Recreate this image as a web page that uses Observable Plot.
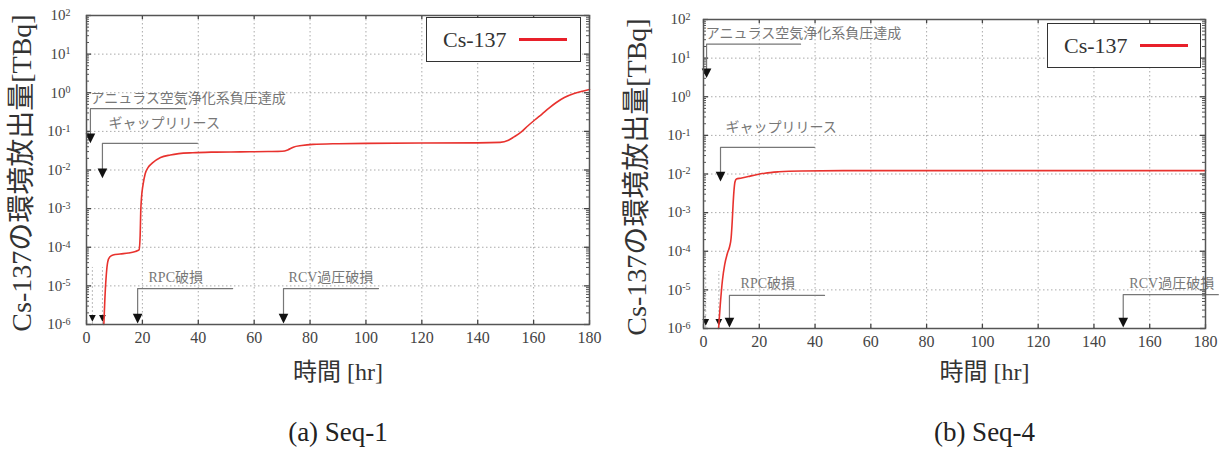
<!DOCTYPE html>
<html><head><meta charset="utf-8">
<script src="https://cdn.jsdelivr.net/npm/d3@7"></script>
<script src="https://cdn.jsdelivr.net/npm/@observablehq/plot@0.6"></script>
<style>
body{margin:0;background:#fff;}
#wrap{position:relative;width:1224px;height:450px;overflow:hidden;background:#fff;font-family:"Liberation Serif","Noto Sans CJK JP",serif;}
.panel{position:absolute;top:0;width:612px;height:450px;}
.legend{position:absolute;border:1.5px solid #333;box-sizing:border-box;background:#fff;}
.legend span{position:absolute;font-size:22px;color:#333;line-height:1;}
.legend i{position:absolute;height:3px;background:#e8202a;}
</style></head><body><div id="wrap"></div><script>
// ---- data ----
const xTicks = [0, 20, 40, 60, 80, 100, 120, 140, 160, 180];
const yTicks = [1e-6, 1e-5, 1e-4, 1e-3, 1e-2, 1e-1, 1e0, 1e1, 1e2];
const seriesName = "Cs-137";
const seq1Time  = [6.2, 6.6, 7.1, 7.6, 8.3, 9.5, 12, 15, 17.5, 18.8, 19.2, 19.4, 19.7, 20.2, 21, 22, 23.5, 26.5, 30, 33, 38, 45, 55, 65, 70, 72, 74, 77, 81, 90, 100, 120, 140, 148, 151, 153, 155.5, 158, 160.5, 163, 165.5, 168, 171, 174.5, 177.5, 180];
const seq1Value = [1e-6, 5e-6, 2e-5, 4.2e-5, 5.6e-5, 6.3e-5, 6.7e-5, 7.1e-5, 7.8e-5, 8.5e-5, 2e-4, 8e-4, 2e-3, 4e-3, 8e-3, 1.15e-2, 1.5e-2, 2.1e-2, 2.45e-2, 2.65e-2, 2.8e-2, 2.9e-2, 2.95e-2, 3e-2, 3.05e-2, 3.3e-2, 3.9e-2, 4.3e-2, 4.6e-2, 4.8e-2, 4.9e-2, 5e-2, 5.05e-2, 5.2e-2, 5.9e-2, 7.2e-2, 9.5e-2, 0.14, 0.2, 0.28, 0.4, 0.55, 0.75, 0.95, 1.1, 1.22];
const seq4Time  = [5.4, 6, 6.8, 7.6, 8.6, 9.4, 9.9, 10.3, 10.6, 10.9, 11.3, 11.8, 13.3, 16, 19, 22, 27, 35, 50, 80, 120, 180];
const seq4Value = [1e-6, 4e-6, 1.8e-5, 4.5e-5, 9e-5, 1.35e-4, 2.2e-4, 6e-4, 1.6e-3, 3.5e-3, 6.3e-3, 7.4e-3, 7.8e-3, 8.6e-3, 9.6e-3, 1.05e-2, 1.14e-2, 1.2e-2, 1.22e-2, 1.22e-2, 1.22e-2, 1.22e-2];
const seq1Events = [
  {label: "アニュラス空気浄化系負圧達成", time: 1.4, arrow: 0.07, level: 0.39, end: 35.4, textTime: 1.4, textLevel: 0.72},
  {label: "ギャップリリース", time: 5.7, arrow: 0.0087, level: 0.049, end: 39.7, textTime: 7.9, textLevel: 0.16},
  {label: "RPC破損", time: 18.3, arrow: 1.5e-6, level: 8.5e-6, end: 52.3, textTime: 22.2, textLevel: 1.6e-5},
  {label: "RCV過圧破損", time: 70.5, arrow: 1.5e-6, level: 8.5e-6, end: 104.5, textTime: 72.3, textLevel: 1.6e-5}
];
const seq4Events = [
  {label: "アニュラス空気浄化系負圧達成", time: 1.1, arrow: 4.3, level: 23, end: 34.8, textTime: 0.8, textLevel: 44},
  {label: "ギャップリリース", time: 6.1, arrow: 0.0091, level: 0.049, end: 39.8, textTime: 7.9, textLevel: 0.16},
  {label: "RPC破損", time: 9.3, arrow: 1.5e-6, level: 7.2e-6, end: 43.4, textTime: 13.3, textLevel: 1.5e-5},
  {label: "RCV過圧破損", time: 150.5, arrow: 1.5e-6, level: 7.5e-6, end: 184.6, textTime: 152.7, textLevel: 1.5e-5}
];
const seq1Marks = [2.1, 5.7];
const seq4Marks = [0.8, 5.5];
const yLabel = "Cs-137の環境放出量[TBq]";
const xLabel = "時間 [hr]";
const captions = ["(a) Seq-1", "(b) Seq-4"];

// ---- helpers ----
const minorTicks = [];
for (let e = -6; e < 2; e++) for (let k = 2; k <= 9; k++) minorTicks.push(k * Math.pow(10, e));
const triDown = {draw(ctx, size) {
  const r = Math.sqrt(size / 1.3);
  ctx.moveTo(0, r * 0.75); ctx.lineTo(-r * 0.62, -r * 0.5); ctx.lineTo(r * 0.62, -r * 0.5); ctx.closePath();
}};
const FONT = '"Liberation Serif","Noto Sans CJK JP",serif';

function makePanel(o) {
  const W = 612, H = 450;
  const iw = W - o.ml - o.mr, ih = H - o.mt - o.mb;
  const series = o.time.map((t, i) => ({t, v: o.value[i]}));
  const leaders = o.events.flatMap(e => [
    {name: e.label, x: e.time, y: e.arrow},
    {name: e.label, x: e.time, y: e.level},
    {name: e.label, x: e.end, y: e.level}
  ]);
  const grid = {stroke: "#aaa", strokeOpacity: 1, strokeWidth: 1, strokeDasharray: "1.5,2.5"};
  const chart = Plot.plot({
    width: W, height: H,
    marginLeft: o.ml, marginRight: o.mr, marginTop: o.mt, marginBottom: o.mb,
    style: {fontFamily: FONT, background: "transparent", overflow: "visible"},
    x: {domain: [0, 180], label: null},
    y: {type: "log", domain: [1e-6, 1e2], label: null},
    marks: [
      Plot.ruleX(xTicks.slice(1, -1), {x: d => d, ...grid}),
      Plot.ruleY(yTicks.slice(1, -1), {y: d => d, ...grid}),
      Plot.tickY(minorTicks, {y: d => d, insetRight: iw - 3, stroke: "#555"}),
      Plot.tickY(minorTicks, {y: d => d, insetLeft: iw - 3, stroke: "#555"}),
      Plot.tickY(yTicks, {y: d => d, insetRight: iw - 5, stroke: "#444", strokeWidth: 1.3}),
      Plot.tickY(yTicks, {y: d => d, insetLeft: iw - 5, stroke: "#444", strokeWidth: 1.3}),
      Plot.tickX(xTicks, {x: d => d, insetTop: ih - 4, stroke: "#444", strokeWidth: 1.3}),
      Plot.tickX(xTicks, {x: d => d, insetBottom: ih - 4, stroke: "#444", strokeWidth: 1.3}),
      Plot.axisX({ticks: xTicks, tickSize: 0, tickPadding: 7, fontSize: 16, color: "#444", tickFormat: d => String(d)}),
      Plot.axisY({ticks: yTicks, tickSize: 0, tickPadding: o.tp, fontSize: 15, color: "#444",
        tickFormat: d => "10^" + Math.round(Math.log10(d))}),
      Plot.ruleX(o.marks, {x: d => d, y1: 1e-6, y2: 3e-5, stroke: "#bbb", strokeDasharray: "2,2"}),
      Plot.line(leaders, {x: "x", y: "y", z: "name", stroke: "#777", strokeWidth: 1.2}),
      Plot.dot(o.events, {x: "time", y: "arrow", symbol: triDown, r: 5, fill: "#111", stroke: "none"}),
      Plot.dot(o.marks, {x: d => d, y: 1.5e-6, symbol: triDown, r: 3.5, fill: "#111", stroke: "none"}),
      Plot.text(o.events, {x: "textTime", y: "textLevel", text: "label", textAnchor: "start", fill: "#777", fontSize: 14}),
      Plot.line(series, {x: "t", y: "v", stroke: "#e8322e", strokeWidth: 1.6, curve: "monotone-x"}),
      Plot.frame({stroke: "#555", strokeWidth: 1.5}),
      Plot.text([yLabel], {frameAnchor: "left", rotate: -90, dx: o.ylx, dy: 3, textAnchor: "middle", lineAnchor: "middle", fontSize: 28, fill: "#333"}),
      Plot.text([xLabel], {frameAnchor: "bottom", dx: o.cx, dy: o.xly, textAnchor: "middle", lineAnchor: "middle", fontSize: 24, fill: "#333"}),
      Plot.text([o.caption], {frameAnchor: "bottom", dx: o.cx, dy: o.cy, textAnchor: "middle", lineAnchor: "middle", fontSize: 27, fill: "#222"})
    ]
  });
  // superscript exponents on y tick labels
  d3.select(chart).selectAll('g[aria-label="y-axis tick label"] text').each(function() {
    const t = this.textContent;
    if (!t.startsWith("10^")) return;
    const exp = t.slice(3);
    const el = d3.select(this);
    el.text(null);
    el.append("tspan").text("10");
    el.append("tspan").attr("dy", "-0.45em").attr("font-size", "10px").text(exp);
  });
  return chart;
}

const wrap = document.getElementById("wrap");
const panels = [
  {left: 0, ml: 86, mr: 23, mt: 15, mb: 126, tp: 16, ylx: -64, cx: 0, xly: 48, cy: 108,
   time: seq1Time, value: seq1Value, events: seq1Events, marks: seq1Marks, caption: captions[0],
   legend: {left: 426, top: 17, w: 155, h: 45}},
  {left: 612, ml: 91, mr: 19, mt: 19, mb: 122, tp: 13, ylx: -66, cx: 30, xly: 44, cy: 104,
   time: seq4Time, value: seq4Value, events: seq4Events, marks: seq4Marks, caption: captions[1],
   legend: {left: 435, top: 23, w: 154, h: 45}}
];
panels.forEach(p => {
  const div = document.createElement("div");
  div.className = "panel";
  div.style.left = p.left + "px";
  div.appendChild(makePanel(p));
  const lg = document.createElement("div");
  lg.className = "legend";
  Object.assign(lg.style, {left: p.legend.left + "px", top: p.legend.top + "px", width: p.legend.w + "px", height: p.legend.h + "px"});
  const sp = document.createElement("span");
  sp.textContent = seriesName;
  Object.assign(sp.style, {left: "16px", top: "11px"});
  const ln = document.createElement("i");
  Object.assign(ln.style, {left: "92px", width: "48px", top: "20px"});
  lg.appendChild(sp); lg.appendChild(ln);
  div.appendChild(lg);
  wrap.appendChild(div);
});
</script></body></html>
